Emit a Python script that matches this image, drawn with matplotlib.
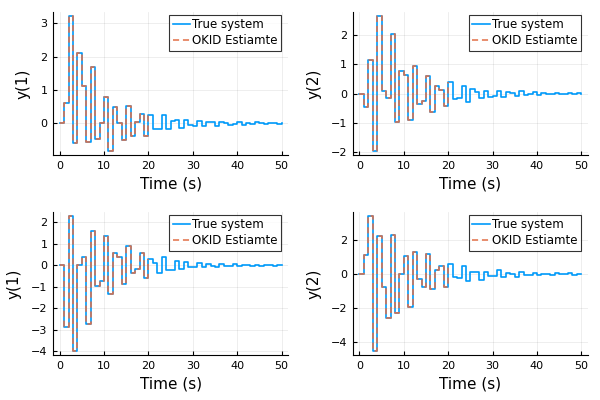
import matplotlib
matplotlib.use('Agg')
import matplotlib.pyplot as plt
from matplotlib.ticker import MultipleLocator

# temps (pas de 1 s), réponses
t = list(range(51))
t_est = list(range(21))

y1_a = [0, 0.62, 3.22, -0.58, 2.12, 1.13, -0.55, 1.68, -0.47, 0.02,
        0.78, -0.83, 0.48, 0.0, -0.5, 0.52, -0.38, 0.03, 0.28, -0.38,
        0.25, -0.17, -0.17, 0.25, -0.17, 0.07, 0.1, -0.15, 0.1, -0.05,
        -0.08, 0.08, -0.07, 0.03, 0.03, -0.07, 0.04, 0.02, -0.04, -0.02,
        0.03, -0.04, 0.0, -0.02, 0.03, 0.0, -0.02, 0.02, 0.0, -0.01, 0.0]
y2_a = [0, -0.48, 1.17, -1.98, 2.67, 0.07, -0.15, 2.05, -0.98, 0.76,
        0.63, -0.9, 0.95, -0.37, -0.27, 0.62, -0.63, 0.27, 0.12, -0.42,
        0.4, -0.2, -0.17, 0.25, -0.28, 0.15, 0.06, -0.15, 0.1, -0.12,
        -0.1, 0.1, -0.12, 0.06, 0.02, -0.07, 0.07, -0.05, -0.03, 0.04,
        -0.04, 0.02, -0.01, -0.03, 0.03, -0.02, -0.01, 0.02, -0.02, 0.01, 0.0]
y1_b = [0, -2.88, 2.29, -3.98, 0.0, 0.4, -2.75, 1.6, -0.95, -0.75,
        1.37, -1.33, 0.55, 0.37, -0.88, 0.9, -0.38, -0.18, 0.57, -0.58,
        0.28, 0.1, -0.37, 0.37, -0.2, -0.2, 0.22, -0.15, 0.15, -0.1,
        -0.07, 0.09, -0.1, 0.08, -0.02, -0.07, 0.06, -0.03, -0.02, 0.04,
        -0.04, 0.03, 0.0, -0.03, 0.03, -0.02, 0.0, 0.02, -0.02, 0.01, 0.0]
y2_b = [0, 1.12, 3.4, -4.5, 2.22, -0.78, -2.55, 2.28, -2.25, 0.0,
        1.07, -1.9, 1.27, -0.28, -0.75, 1.2, -0.9, 0.23, 0.45, -0.75,
        0.6, -0.15, -0.2, 0.48, -0.42, 0.15, 0.15, -0.33, 0.15, -0.1,
        -0.1, 0.22, -0.18, 0.08, 0.02, -0.15, 0.15, -0.05, -0.05, 0.08,
        -0.08, 0.03, 0.0, -0.06, 0.05, -0.02, -0.02, 0.04, -0.03, 0.0, 0.0]

series = [(y1_a, 'y(1)', 1), (y2_a, 'y(2)', 1), (y1_b, 'y(1)', 1), (y2_b, 'y(2)', 2)]
positions = [[0.0883, 0.6125, 0.392, 0.3575],
             [0.588, 0.6125, 0.392, 0.3575],
             [0.0883, 0.1125, 0.392, 0.3575],
             [0.588, 0.1125, 0.392, 0.3575]]

bleu = '#009AF9'
orange = '#E26F46'

fig = plt.figure(figsize=(6, 4), dpi=100)

for (y, nom, pas), pos in zip(series, positions):
    ax = fig.add_axes(pos)
    ax.step(t, y, where='post', color=bleu, lw=1.2, label='True system')
    ax.step(t_est, y[:21], where='post', color=orange, lw=1.1,
            ls=(0, (4, 2.5)), label='OKID Estiamte')
    ax.margins(0.03)
    ax.set_xticks([0, 10, 20, 30, 40, 50])
    ax.yaxis.set_major_locator(MultipleLocator(pas))
    ax.grid(True, color='black', alpha=0.08, lw=0.6)
    for s in ['top', 'right']:
        ax.spines[s].set_visible(False)
    ax.tick_params(direction='in', length=3, labelsize=8, width=0.8, pad=4)
    ax.set_xlabel('Time (s)', fontsize=11, labelpad=4)
    ax.set_ylabel(nom, fontsize=11, labelpad=7)
    leg = ax.legend(loc='upper right', bbox_to_anchor=(0.97, 0.98),
                    fontsize=8.5, frameon=True, fancybox=False,
                    handlelength=1.45, handletextpad=0.2, borderpad=0.3,
                    labelspacing=0.25, borderaxespad=0.0)
    leg.get_frame().set_edgecolor('black')
    leg.get_frame().set_linewidth(0.8)

fig.savefig('out.png', dpi=100)
